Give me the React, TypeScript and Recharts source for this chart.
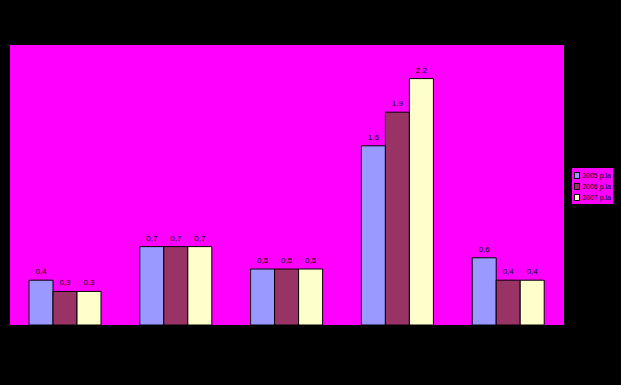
import { BarChart, Bar, XAxis, YAxis, CartesianGrid, LabelList } from 'recharts'

const categories = ['1', '2', '3', '4', '5']
const s2005 = [0.4, 0.7, 0.5, 1.6, 0.6]
const s2006 = [0.3, 0.7, 0.5, 1.9, 0.4]
const s2007 = [0.3, 0.7, 0.5, 2.2, 0.4]
const seriesNames = ['2005 p.la', '2006 p.la', '2007 p.la']
const colors = ['#9999FF', '#993366', '#FFFFCC']

const data = categories.map((c, i) => ({
  name: c,
  a: s2005[i],
  b: s2006[i],
  c: s2007[i],
}))

const fmt = (v: any) => String(v).replace('.', ',')

export default function App() {
  return (
    <div style={{ background: '#000', width: 621, height: 385, position: 'relative' }}>
      <style>{'body{margin:0}'}</style>
      <BarChart
        width={621}
        height={385}
        data={data}
        margin={{ top: 45, left: 10, right: 57, bottom: 60 }}
        barGap={0}
        barSize={24}
      >
        <CartesianGrid fill="#FF00FF" fillOpacity={1} stroke="none" />
        <XAxis dataKey="name" hide />
        <YAxis domain={[0, 2.5]} hide />
        {(['a', 'b', 'c'] as const).map((k, i) => (
          <Bar
            key={k}
            dataKey={k}
            fill={colors[i]}
            stroke="#000"
            strokeWidth={1}
            isAnimationActive={false}
          >
            <LabelList
              dataKey={k}
              position="top"
              offset={6}
              formatter={fmt}
              style={{ fontSize: 8, fill: '#000', fontFamily: 'Arial, Liberation Sans, sans-serif' }}
            />
          </Bar>
        ))}
      </BarChart>
      {/* legend box on the right */}
      <div
        style={{
          position: 'absolute',
          left: 571,
          top: 167,
          width: 43,
          height: 38,
          boxSizing: 'border-box',
          background: '#FF00FF',
          border: '1px solid #000',
          padding: '2px 2px',
          fontFamily: 'Arial, Liberation Sans, sans-serif',
          fontSize: 7,
          lineHeight: '11px',
          color: '#000',
        }}
      >
        {seriesNames.map((n, i) => (
          <div key={n} style={{ display: 'flex', alignItems: 'center', whiteSpace: 'nowrap' }}>
            <span
              style={{
                display: 'inline-block',
                width: 5,
                height: 5,
                background: colors[i],
                border: '1px solid #000',
                marginRight: 2,
              }}
            />
            {n}
          </div>
        ))}
      </div>
    </div>
  )
}
